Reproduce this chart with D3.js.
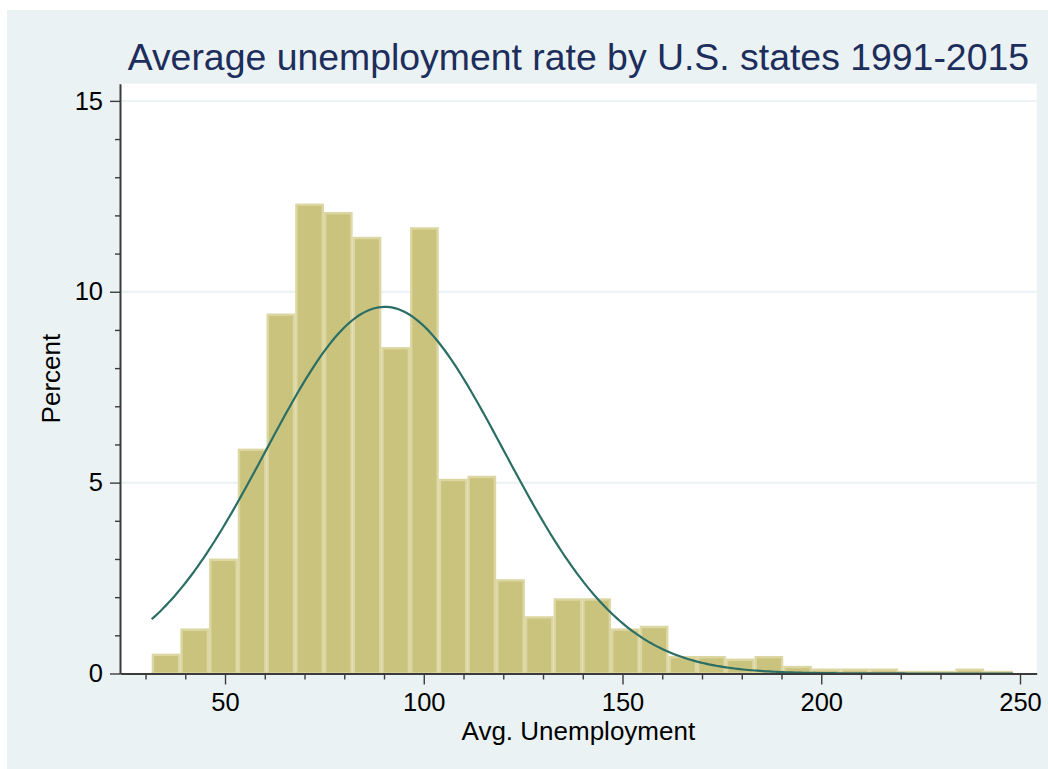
<!DOCTYPE html>
<html>
<head>
<meta charset="utf-8">
<script src="https://cdn.jsdelivr.net/npm/d3@7"></script>
<style>
  html, body { margin: 0; padding: 0; background: #ffffff; }
  svg { display: block; }
</style>
</head>
<body>
<svg id="chart" width="1048" height="769"></svg>
<script>
// ---------------- data ----------------
const binStart = 31.55;          // left edge of first bin
const binWidth = 7.222;          // bin width (Avg. Unemployment units)
const binPercents = [
  0.52, 1.18, 3.01, 5.89, 9.43, 12.31, 12.09, 11.44, 8.55, 11.69,
  5.10, 5.18, 2.47, 1.50, 1.97, 1.97, 1.18, 1.25, 0.46, 0.46,
  0.39, 0.46, 0.20, 0.13, 0.13, 0.13, 0.07, 0.07, 0.13, 0.07
];
const normalMean = 90.2;         // fitted normal overlay
const normalSD = 30.0;
const xMajorTicks = [50, 100, 150, 200, 250];
const xMinorTicks = [30, 40, 60, 70, 80, 90, 110, 120, 130, 140, 160, 170, 180, 190, 210, 220, 230, 240];
const yMajorTicks = [0, 5, 10, 15];
const yMinorTicks = [1, 2, 3, 4, 6, 7, 8, 9, 11, 12, 13, 14];
const titleText = "Average unemployment rate by U.S. states 1991-2015";
const xTitleText = "Avg. Unemployment";
const yTitleText = "Percent";

// ---------------- layout ----------------
const W = 1048, H = 769;
const plot = { left: 120, top: 83.7, right: 1036.7, bottom: 673.5 };
const FONT = "'Liberation Sans', Arial, Helvetica, sans-serif";

const svg = d3.select("#chart");

// graph region
svg.append("rect").attr("x", 7).attr("y", 10).attr("width", W - 7).attr("height", H - 10)
  .attr("fill", "#EAF2F3");
// plot region
svg.append("rect").attr("x", plot.left).attr("y", plot.top)
  .attr("width", plot.right - plot.left).attr("height", plot.bottom - plot.top)
  .attr("fill", "#ffffff");

const x = d3.scaleLinear().domain([23.58, 254.2]).range([plot.left, plot.right]);
const y = d3.scaleLinear().domain([0, 15.45]).range([plot.bottom, plot.top]);

// gridlines
svg.append("g").selectAll("line").data(yMajorTicks.filter(d => d > 0)).join("line")
  .attr("x1", plot.left).attr("x2", plot.right)
  .attr("y1", d => y(d)).attr("y2", d => y(d))
  .attr("stroke", "#EAF2F3").attr("stroke-width", 2);

// bars
const bins = binPercents.map((v, i) => ({ x0: binStart + i * binWidth, x1: binStart + (i + 1) * binWidth, v }));
svg.append("g").selectAll("rect").data(bins).join("rect")
  .attr("x", d => x(d.x0) + 1.2)
  .attr("width", d => x(d.x1) - x(d.x0) - 2.4)
  .attr("y", d => y(d.v) + 1.2)
  .attr("height", d => Math.max(0, y(0) - y(d.v) - 1.2))
  .attr("fill", "#CAC37E")
  .attr("stroke", "#DCD6A2")
  .attr("stroke-width", 2.4);

// normal density overlay (percent per bin)
const xMin = binStart, xMax = binStart + binPercents.length * binWidth;
const curvePts = d3.range(0, 301).map(i => {
  const xv = xMin + (xMax - xMin) * i / 300;
  const z = (xv - normalMean) / normalSD;
  return [xv, 100 * binWidth * Math.exp(-0.5 * z * z) / (normalSD * Math.sqrt(2 * Math.PI))];
});
svg.append("path").datum(curvePts)
  .attr("d", d3.line().x(d => x(d[0])).y(d => y(d[1])))
  .attr("fill", "none").attr("stroke", "#2B6E65").attr("stroke-width", 2.2);

// axes
const axisColor = "#3b3b3b";
function styleAxis(g, fontSize) {
  g.selectAll("path.domain").attr("stroke", axisColor).attr("stroke-width", 2);
  g.selectAll(".tick line").attr("stroke", axisColor).attr("stroke-width", 1.4);
  g.selectAll(".tick text").attr("fill", "#000").style("font-family", FONT).style("font-size", fontSize + "px");
}
// x minor
const gxm = svg.append("g").attr("transform", `translate(0,${plot.bottom})`)
  .call(d3.axisBottom(x).tickValues(xMinorTicks).tickSize(6).tickSizeOuter(0).tickFormat(""));
styleAxis(gxm, 25.5);
gxm.select("path.domain").remove();
// x major
const gx = svg.append("g").attr("transform", `translate(0,${plot.bottom})`)
  .call(d3.axisBottom(x).tickValues(xMajorTicks).tickSize(11).tickSizeOuter(0).tickPadding(8.2).tickFormat(d3.format("d")));
styleAxis(gx, 25.5);
// y minor
const gym = svg.append("g").attr("transform", `translate(${plot.left},0)`)
  .call(d3.axisLeft(y).tickValues(yMinorTicks).tickSize(5).tickSizeOuter(0).tickFormat(""));
styleAxis(gym, 25.5);
gym.select("path.domain").remove();
// y major
const gy = svg.append("g").attr("transform", `translate(${plot.left},0)`)
  .call(d3.axisLeft(y).tickValues(yMajorTicks).tickSize(10).tickSizeOuter(0).tickPadding(7).tickFormat(d3.format("d")));
styleAxis(gy, 25.5);

// titles
svg.append("text").attr("x", (plot.left + plot.right) / 2).attr("y", 70)
  .attr("text-anchor", "middle").style("font-family", FONT).style("font-size", "37.4px")
  .attr("fill", "#1D2D5C").text(titleText);
svg.append("text").attr("x", (plot.left + plot.right) / 2).attr("y", 740)
  .attr("text-anchor", "middle").style("font-family", FONT).style("font-size", "26px")
  .attr("fill", "#000").text(xTitleText);
svg.append("text").attr("transform", `translate(60,${(plot.top + plot.bottom) / 2}) rotate(-90)`)
  .attr("text-anchor", "middle").style("font-family", FONT).style("font-size", "26px")
  .attr("fill", "#000").text(yTitleText);
</script>
</body>
</html>
